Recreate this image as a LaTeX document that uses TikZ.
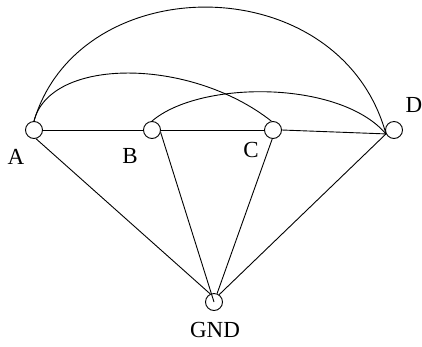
\documentclass[tikz,border=0pt]{standalone}
\usepackage{fontspec}
\setmainfont{Liberation Serif}
\usetikzlibrary{positioning}
\tikzset{
    vertex/.style={circle, draw, line width=0.9pt, minimum size=17pt, inner sep=0pt},
    lbl/.style={font=\fontsize{23}{26}\selectfont, inner sep=0pt},
    wire/.style={line width=0.9pt}
}

\begin{document}
\begin{tikzpicture}[x=1pt,y=-1pt]
    \useasboundingbox (0,0) rectangle (422,346);
    % terminals
    \node[vertex] (A) at (34,130) {};
    \node[vertex] (B) at (152,130) {};
    \node[vertex] (C) at (273,130) {};
    \node[vertex] (D) at (394,130) {};
    \node[vertex] (GND) at (214,302) {};
    % labels
    \node[lbl] (labA) at (16,157) {A};
    \node[lbl] (labB) at (130,156) {B};
    \node[lbl] (labC) at (251,150) {C};
    \node[lbl] (labD) at (414,105) {D};
    \node[lbl] (labGND) at (215,330) {GND};
    % straight wires
    \draw[wire] (A.east) -- (B.west);
    \draw[wire] (B.east) -- (C.west);
    \draw[wire] (C.east) -- (D.206);
    \draw[wire] (A.-77) -- (GND.115);
    \draw[wire] (B.-15) -- (GND.center);
    \draw[wire] (C.-95) -- (GND.70);
    \draw[wire] (D.206) -- (GND.55);
    % arcs
    \draw[wire] (A.north) .. controls (80,-33) and (340,-33) .. (D.206);
    \draw[wire] (A.north) .. controls (50,57) and (190,57) .. (C.100);
    \draw[wire] (B.north) .. controls (200,80) and (340,80) .. (D.206);
\end{tikzpicture}
\end{document}
